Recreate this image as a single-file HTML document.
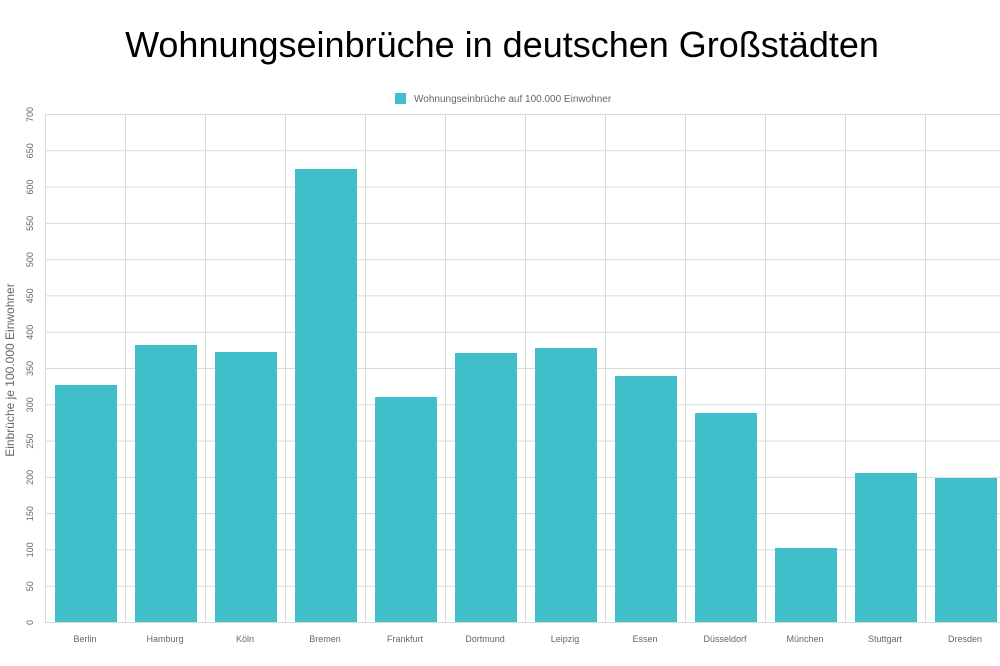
<!DOCTYPE html>
<html><head><meta charset="utf-8"><style>
body{margin:0;background:#fff;}
svg{display:block;font-family:"Liberation Sans",sans-serif;}
</style></head><body>
<svg width="1000" height="666" viewBox="0 0 1000 666">
<text x="502" y="57" text-anchor="middle" font-size="36" fill="#000">Wohnungseinbrüche in deutschen Großstädten</text>
<rect x="395" y="93" width="11" height="11" fill="#40bfca"/>
<text x="414" y="102" font-size="10" fill="#666">Wohnungseinbrüche auf 100.000 Einwohner</text>
<g stroke="#dadada" stroke-width="1">
<line x1="45" y1="114.5" x2="1000" y2="114.5"/><line x1="45" y1="150.8" x2="1000" y2="150.8"/><line x1="45" y1="187.1" x2="1000" y2="187.1"/><line x1="45" y1="223.4" x2="1000" y2="223.4"/><line x1="45" y1="259.6" x2="1000" y2="259.6"/><line x1="45" y1="295.9" x2="1000" y2="295.9"/><line x1="45" y1="332.2" x2="1000" y2="332.2"/><line x1="45" y1="368.5" x2="1000" y2="368.5"/><line x1="45" y1="404.8" x2="1000" y2="404.8"/><line x1="45" y1="441.1" x2="1000" y2="441.1"/><line x1="45" y1="477.4" x2="1000" y2="477.4"/><line x1="45" y1="513.6" x2="1000" y2="513.6"/><line x1="45" y1="549.9" x2="1000" y2="549.9"/><line x1="45" y1="586.2" x2="1000" y2="586.2"/><line x1="45" y1="622.5" x2="1000" y2="622.5"/>
<line x1="45.5" y1="114" x2="45.5" y2="623"/><line x1="125.5" y1="114" x2="125.5" y2="623"/><line x1="205.5" y1="114" x2="205.5" y2="623"/><line x1="285.5" y1="114" x2="285.5" y2="623"/><line x1="365.5" y1="114" x2="365.5" y2="623"/><line x1="445.5" y1="114" x2="445.5" y2="623"/><line x1="525.5" y1="114" x2="525.5" y2="623"/><line x1="605.5" y1="114" x2="605.5" y2="623"/><line x1="685.5" y1="114" x2="685.5" y2="623"/><line x1="765.5" y1="114" x2="765.5" y2="623"/><line x1="845.5" y1="114" x2="845.5" y2="623"/><line x1="925.5" y1="114" x2="925.5" y2="623"/>
</g>
<g fill="#40bfca">
<rect x="55" y="385" width="62" height="237"/>
<rect x="135" y="345" width="62" height="277"/>
<rect x="215" y="352" width="62" height="270"/>
<rect x="295" y="169" width="62" height="453"/>
<rect x="375" y="397" width="62" height="225"/>
<rect x="455" y="353" width="62" height="269"/>
<rect x="535" y="348" width="62" height="274"/>
<rect x="615" y="376" width="62" height="246"/>
<rect x="695" y="413" width="62" height="209"/>
<rect x="775" y="548" width="62" height="74"/>
<rect x="855" y="473" width="62" height="149"/>
<rect x="935" y="478" width="62" height="144"/>
</g>
<g font-size="9" fill="#666" text-anchor="middle">
<text transform="translate(33,114.5) rotate(-90)">700</text><text transform="translate(33,150.8) rotate(-90)">650</text><text transform="translate(33,187.1) rotate(-90)">600</text><text transform="translate(33,223.4) rotate(-90)">550</text><text transform="translate(33,259.6) rotate(-90)">500</text><text transform="translate(33,295.9) rotate(-90)">450</text><text transform="translate(33,332.2) rotate(-90)">400</text><text transform="translate(33,368.5) rotate(-90)">350</text><text transform="translate(33,404.8) rotate(-90)">300</text><text transform="translate(33,441.1) rotate(-90)">250</text><text transform="translate(33,477.4) rotate(-90)">200</text><text transform="translate(33,513.6) rotate(-90)">150</text><text transform="translate(33,549.9) rotate(-90)">100</text><text transform="translate(33,586.2) rotate(-90)">50</text><text transform="translate(33,622.5) rotate(-90)">0</text>
</g>
<text transform="translate(14,370) rotate(-90)" font-size="12" fill="#666" text-anchor="middle">Einbrüche je 100.000 Einwohner</text>
<g font-size="9" fill="#666" text-anchor="middle">
<text x="85" y="642">Berlin</text><text x="165" y="642">Hamburg</text><text x="245" y="642">Köln</text><text x="325" y="642">Bremen</text><text x="405" y="642">Frankfurt</text><text x="485" y="642">Dortmund</text><text x="565" y="642">Leipzig</text><text x="645" y="642">Essen</text><text x="725" y="642">Düsseldorf</text><text x="805" y="642">München</text><text x="885" y="642">Stuttgart</text><text x="965" y="642">Dresden</text>
</g>
</svg>
</body></html>
